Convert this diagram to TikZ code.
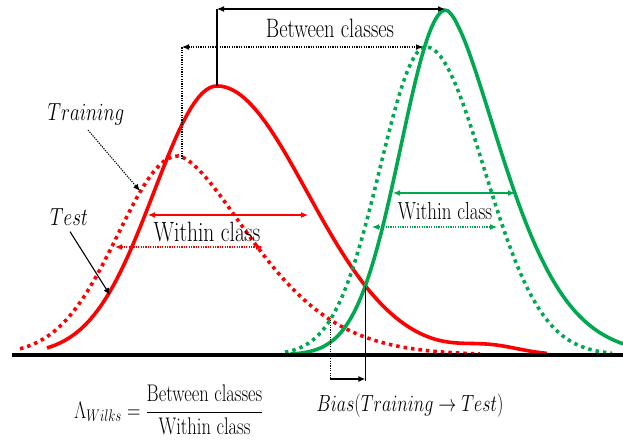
\RequirePackage{fix-cm}
\documentclass[tikz,border=0pt]{standalone}
\usepackage{amsmath}
\usepackage{fontspec}
\usepackage{graphicx}
\usepackage{xcolor}
\usepackage{tikz}
\usetikzlibrary{arrows.meta, positioning, intersections}

\definecolor{redc}{RGB}{255,0,0}
\definecolor{greenc}{RGB}{0,168,80}

% text in the figure is a bit stretched upwards
\newcommand{\tall}[1]{\scalebox{1}[1.3]{#1}}

\tikzset{
  lbl/.style={inner sep=0pt, font=\fontsize{20.5}{24}\selectfont},
  curve/.style={line width=3.6pt, line join=round},
  dots/.style={line width=3.6pt, dash pattern=on 3.5pt off 4pt},
  thinarr/.style={line width=1.1pt},
  dotarr/.style={line width=1.1pt, dash pattern=on 1.2pt off 1.2pt},
}

\begin{document}
\begin{tikzpicture}[x=1pt, y=-1pt, >={Latex[length=7pt,width=6pt]},
    declare function={
      rtest(\x)=269*exp(-0.5*((\x-217)/(\x<217?63:90))^2)+8*exp(-0.5*((\x-490)/30)^2);
      rtrain(\x)=(\x<178) ? 199*exp(-0.5*((\x-178)/60)^2)
                          : 199*exp(-((abs(\x-178)+0.001)/108)^1.6);
      gtest(\x)=(\x<446) ? 345*exp(-0.5*((\x-446)/45)^2)
                         : 345*exp(-((abs(\x-446)+0.001)/82)^1.6);
      gtrain(\x)=308*exp(-0.5*((\x-426)/(\x<426?46:58))^2);
    }]

    \useasboundingbox (0,0) rectangle (623,445);

    % =================================================================
    % 1. MAIN POINTS
    % =================================================================
    \coordinate (RPeak) at (217,86);
    \coordinate (BTopL) at (217,9);
    \coordinate (BTopR) at (445,9);
    \coordinate (BDotL) at (182,47);
    \coordinate (BDotR) at (423,47);
    \coordinate (BDotD) at (182,159);

    \coordinate (RwL) at (148,215);
    \coordinate (RwR) at (308,215);
    \coordinate (RdwL) at (115,247);
    \coordinate (RdwR) at (263,247);
    \coordinate (GwL) at (393,193);
    \coordinate (GwR) at (515,193);
    \coordinate (GdwL) at (372,227);
    \coordinate (GdwR) at (497,227);

    \coordinate (TrainTip) at (140,191);
    \coordinate (TestTip) at (110,295);

    % =================================================================
    % 2. CURVES
    % =================================================================
    % red, training (dotted)
    \draw[dots, redc, name path=rtr] plot[domain=20:480, samples=120]
      (\x, {355-rtrain(\x)});
    % red, test
    \draw[curve, redc, name path=rts] plot[domain=47:547, samples=130]
      (\x, {355-rtest(\x)});
    % green, training (dotted)
    \draw[dots, greenc, name path=gtr] plot[domain=285:612, samples=100]
      (\x, {355-gtrain(\x)});
    % green, test
    \draw[curve, greenc, name path=gts] plot[domain=290:623, samples=100]
      (\x, {355-gtest(\x)});

    % axis
    \draw[line width=3.6pt] (12,355) -- (623,355);

    % crossing points of the two classes
    \path[name intersections={of=rts and gts, by=Cross}];
    \path[name intersections={of=rtr and gtr, by=CrossTr}];
    \coordinate (BiasL) at (CrossTr |- 0,379);
    \coordinate (BiasR) at (Cross |- 0,379);

    % =================================================================
    % 3. ARROWS
    % =================================================================
    % between classes
    \draw[thinarr] (RPeak) -- (BTopL);
    \draw[thinarr, <->] (BTopL) -- (BTopR);
    \draw[dotarr] (BDotD) -- (BDotL);
    \draw[dotarr, <->] (BDotL) -- (BDotR);

    % within class
    \draw[thinarr, redc, <->] (RwL) -- (RwR);
    \draw[dotarr, redc, <->] (RdwL) -- (RdwR);
    \draw[thinarr, greenc, <->] (GwL) -- (GwR);
    \draw[dotarr, greenc, <->] (GdwL) -- (GdwR);

    % bias
    \draw[dotarr] (CrossTr) -- (BiasL);
    \draw[thinarr] (Cross) -- ([yshift=-2pt]BiasR);
    \draw[thinarr, ->] (BiasL) -- (BiasR);

    % =================================================================
    % 4. LABELS
    % =================================================================
    \node[lbl] (between) at (330,28) {\tall{Between classes}};
    \node[lbl, font=\fontsize{21.5}{25}\selectfont] (withinR) at (207,232) {\tall{Within class}};
    \node[lbl, font=\fontsize{19}{23}\selectfont] (withinG) at (445,211) {\tall{Within class}};

    \node[lbl, font=\fontsize{19}{23}\selectfont] (train) at (86,114) {\tall{$Training$}};
    \node[lbl, font=\fontsize{19}{23}\selectfont] (test) at (69,217) {\tall{$Test$}};
    \coordinate (TrainFrom) at ([shift={(2,5)}]train.south);
    \coordinate (TestFrom) at ([shift={(1,6)}]test.south);
    \draw[dotarr, ->] (TrainFrom) -- (TrainTip);
    \draw[thinarr, ->] (TestFrom) -- (TestTip);

    \node[lbl, font=\fontsize{18.5}{22}\selectfont] (wilks) at (169,410)
      {\tall{$\Lambda_{Wilks} = \dfrac{\text{Between classes}}{\text{Within class}}$}};
    \node[lbl, font=\fontsize{18}{22}\selectfont] (bias) at (410,406)
      {\tall{$Bias(Training \rightarrow Test)$}};

\end{tikzpicture}
\end{document}
